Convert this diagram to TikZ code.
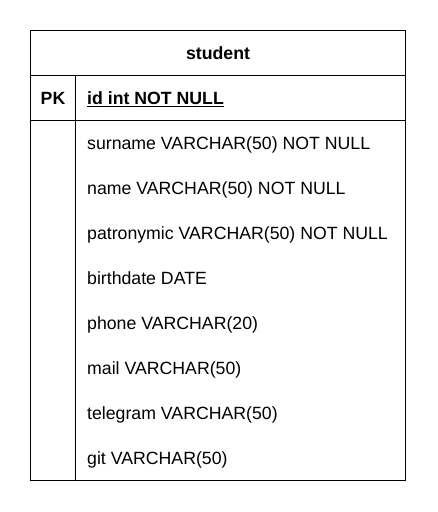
\documentclass[tikz,border=0pt]{standalone}
\usepackage{fontspec}
\setmainfont{Liberation Sans}
\begin{document}
\begin{tikzpicture}[x=1pt,y=-1pt,
  frame/.style={draw=black,line width=1.5pt},
  field/.style={anchor=base west,inner sep=0pt,font=\fontsize{17.7}{20}\selectfont},
  bfield/.style={field,font=\fontsize{17.7}{20}\selectfont\bfseries},
  title/.style={anchor=base,inner sep=0pt,font=\fontsize{17.7}{20}\selectfont\bfseries}]
\useasboundingbox (0,0) rectangle (437,512);
\fill[white] (0,0) rectangle (437,512);
% table frame
\draw[frame] (30.5,30.5) rectangle (405.5,480.5);
\coordinate (hl) at (30.5,75.5);
\coordinate (hr) at (405.5,75.5);
\coordinate (pl) at (30.5,120.5);
\coordinate (pr) at (405.5,120.5);
\coordinate (dt) at (75.5,75.5);
\coordinate (db) at (75.5,480.5);
\draw[frame] (hl) -- (hr);
\draw[frame] (pl) -- (pr);
\draw[frame] (dt) -- (db);
% texts
\node[title] (t) at (218,59.4) {student};
\node[title] (pk) at (53,104.4) {PK};
\node[bfield] (id) at (87,104.4) {\underline{id int NOT NULL}};
\node[field] (f1) at (87,149.8) {surname VARCHAR(50) NOT NULL};
\node[field] (f2) at (87,194.7) {name VARCHAR(50) NOT NULL};
\node[field] (f3) at (87,239.6) {patronymic VARCHAR(50) NOT NULL};
\node[field] (f4) at (87,284.5) {birthdate DATE};
\node[field] (f5) at (87,329.4) {phone VARCHAR(20)};
\node[field] (f6) at (87,374.3) {mail VARCHAR(50)};
\node[field] (f7) at (87,419.2) {telegram VARCHAR(50)};
\node[field] (f8) at (87,464.1) {git VARCHAR(50)};
\end{tikzpicture}
\end{document}
